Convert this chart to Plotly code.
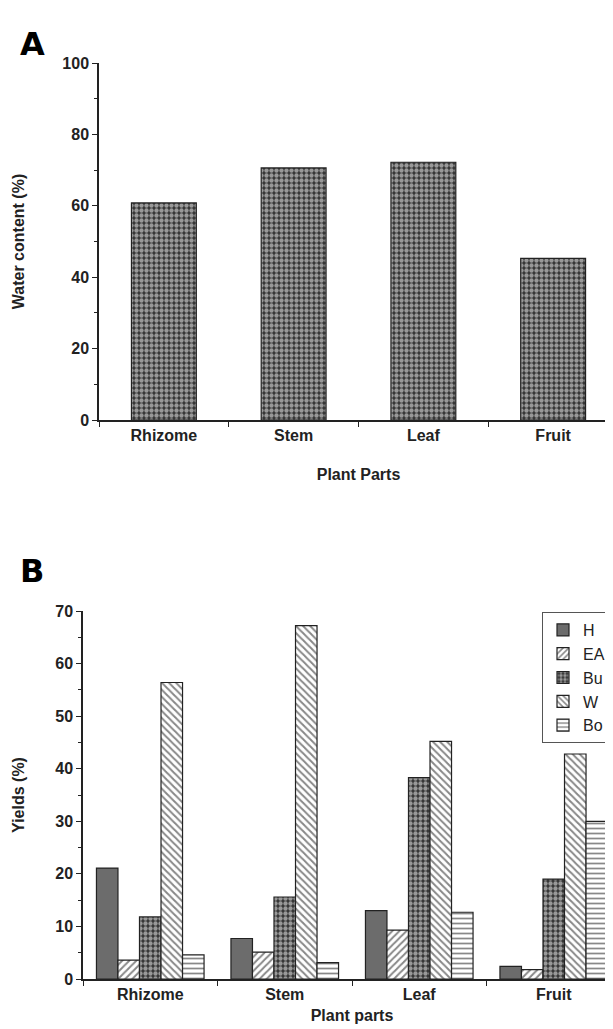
import plotly.graph_objects as go

# ---------------- data ----------------
parts_a = ["Rhizome", "Stem", "Leaf", "Fruit"]
water_content = [60.8, 70.6, 72.2, 45.3]

parts_b = ["Rhizome", "Stem", "Leaf", "Fruit"]
yield_H = [21.1, 7.7, 13.0, 2.4]
yield_EA = [3.6, 5.1, 9.3, 1.8]
yield_Bu = [11.8, 15.6, 38.3, 19.0]
yield_W = [56.4, 67.2, 45.2, 42.8]
yield_Bo = [4.6, 3.1, 12.7, 30.0]
series_names = ["H", "EA", "Bu", "W", "Bo"]

W_PX, H_PX = 613, 1029
FONT = "Liberation Sans, Arial, sans-serif"
INK = "#222222"

def xd(a, b):
    return [a / W_PX, min(b / W_PX, 1.0)]

def yd(top, bottom):
    return [1 - bottom / H_PX, 1 - top / H_PX]

dots = dict(shape=".", fgcolor="white", bgcolor="#333333", size=5, solidity=0.6)

fig = go.Figure()

# Panel A
fig.add_trace(go.Bar(
    x=parts_a, y=water_content, width=0.5, showlegend=False,
    xaxis="x", yaxis="y",
    marker=dict(color="#333333", line=dict(color=INK, width=1.2), pattern=dots),
))

# Panel B
styles = {
    "H": dict(color="#6c6c6c", pattern=dict(shape="")),
    "EA": dict(color="white", pattern=dict(shape="/", fgcolor="#111", bgcolor="white", size=5, solidity=0.4)),
    "Bu": dict(color="#333333", pattern=dots),
    "W": dict(color="white", pattern=dict(shape="\\", fgcolor="#111", bgcolor="white", size=5, solidity=0.4)),
    "Bo": dict(color="white", pattern=dict(shape="-", fgcolor="#111", bgcolor="white", size=5, solidity=0.35)),
}
for name, vals in zip(series_names, [yield_H, yield_EA, yield_Bu, yield_W, yield_Bo]):
    st = styles[name]
    fig.add_trace(go.Bar(
        x=parts_b, y=vals, name=name, xaxis="x2", yaxis="y2",
        marker=dict(color=st["color"], line=dict(color=INK, width=1.2),
                    pattern=st["pattern"]),
    ))

tickfont = dict(family=FONT, size=16, color=INK)
titlefont = dict(family=FONT, size=16, color=INK)

common_x = dict(
    type="category", showline=True, linecolor=INK, linewidth=1.5,
    ticks="outside", ticklen=5, tickwidth=1.3, tickcolor=INK,
    tickson="boundaries", showgrid=False, zeroline=False,
    tickfont=tickfont, fixedrange=True,
)
common_y = dict(
    showline=True, linecolor=INK, linewidth=1.5,
    ticks="outside", ticklen=5, tickwidth=1.3, tickcolor=INK,
    showgrid=False, zeroline=False, tickfont=tickfont,
)

fig.update_layout(
    width=W_PX, height=H_PX,
    margin=dict(l=0, r=0, t=0, b=0, autoexpand=False),
    paper_bgcolor="white", plot_bgcolor="white",
    barmode="group", bargap=0.2, bargroupgap=0,
    font=dict(family=FONT, color=INK),
    xaxis=dict(**common_x, domain=xd(91, 610), anchor="y", range=[-0.5, 3.5],
               title=dict(text="<b>Plant Parts</b>", font=titlefont, standoff=26)),
    yaxis=dict(**common_y, domain=yd(55, 412), anchor="x", range=[0, 100],
               tickvals=[0, 20, 40, 60, 80, 100],
               ticktext=["<b>%d</b>" % v for v in [0, 20, 40, 60, 80, 100]],
               minor=dict(dtick=10, ticks="outside", ticklen=3, tickcolor=INK),
               title=dict(text="<b>Water content (%)</b>", font=titlefont, standoff=34)),
    xaxis2=dict(**common_x, domain=xd(75, 615), anchor="y2", range=[-0.5, 3.5],
                title=dict(text="<b>Plant parts</b>", font=titlefont, standoff=8)),
    yaxis2=dict(**common_y, domain=yd(603, 971), anchor="x2", range=[0, 70],
                tickvals=[0, 10, 20, 30, 40, 50, 60, 70],
                ticktext=["<b>%d</b>" % v for v in [0, 10, 20, 30, 40, 50, 60, 70]],
                minor=dict(dtick=5, ticks="outside", ticklen=3, tickcolor=INK),
                title=dict(text="<b>Yields (%)</b>", font=titlefont, standoff=27)),
    legend=dict(x=534 / W_PX, y=1 - 604 / H_PX, xanchor="left", yanchor="top",
                bordercolor="#555", borderwidth=1, bgcolor="white",
                font=dict(family=FONT, size=16, color=INK),
                tracegroupgap=0, itemwidth=30),
    annotations=[
        dict(text="<b>A</b>", x=10 / W_PX, y=1 - 36 / H_PX, xref="paper", yref="paper",
             xanchor="left", yanchor="middle", showarrow=False,
             font=dict(family="DejaVu Sans, sans-serif", size=32, color="black")),
        dict(text="<b>B</b>", x=10 / W_PX, y=1 - 563 / H_PX, xref="paper", yref="paper",
             xanchor="left", yanchor="middle", showarrow=False,
             font=dict(family="DejaVu Sans, sans-serif", size=32, color="black")),
    ],
)

# tick labels on category axes in bold
fig.update_xaxes(tickvals=parts_a, ticktext=["<b>%s</b>" % p for p in parts_a])

fig.write_html("out.html")
